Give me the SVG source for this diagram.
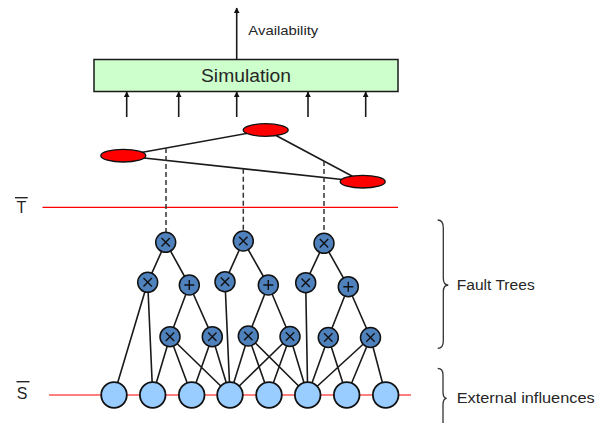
<svg xmlns="http://www.w3.org/2000/svg" width="608" height="423" viewBox="0 0 608 423">
<style>
.txt{font-family:"Liberation Sans",Arial,sans-serif;fill:#262626}
.ln{stroke:#1a1a1a;stroke-width:1.6;fill:none}
.dash{stroke:#333;stroke-width:1.5;stroke-dasharray:5,3;fill:none}
.red{stroke:#ff0000;stroke-width:1.2;fill:none}
.gate{fill:#4f81bd;stroke:#111;stroke-width:1.5}
.sym{stroke:#111;stroke-width:1.4;fill:none}
.base{fill:#99ccff;stroke:#111;stroke-width:1.8}
.ell{fill:#ff0000;stroke:#111;stroke-width:1.3}
.brace{stroke:#333;stroke-width:1.3;fill:none}
</style>
<defs>
<marker id="ah" viewBox="0 0 10 10" refX="9" refY="5" markerWidth="6" markerHeight="6" markerUnits="userSpaceOnUse" orient="auto">
<path d="M0,0 L10,5 L0,10 z" fill="#111"/>
</marker>
<g id="gx"><circle r="10" class="gate"/><path d="M-4.2,-4.2 L4.2,4.2 M4.2,-4.2 L-4.2,4.2" class="sym"/></g>
<g id="gp"><circle r="10" class="gate"/><path d="M-5,0 L5,0 M0,-5 L0,5" class="sym"/></g>
</defs>

<!-- level lines and labels -->
<g id="levels">
<line x1="42.5" y1="207.3" x2="398" y2="207.3" class="red"/>
<line x1="49" y1="395" x2="411" y2="395" class="red"/>
<text x="21.5" y="213.3" class="txt" font-size="16" text-anchor="middle">T</text>
<line x1="15" y1="197.7" x2="27.7" y2="197.7" stroke="#262626" stroke-width="1.4"/>
<text x="22" y="398.5" class="txt" font-size="16" text-anchor="middle">S</text>
<line x1="16.5" y1="381.7" x2="29.5" y2="381.7" stroke="#262626" stroke-width="1.4"/>
</g>

<!-- connectors -->
<g id="connectors">
<line x1="236.7" y1="59.5" x2="236.7" y2="8" class="ln" marker-end="url(#ah)"/>
<line x1="126.7" y1="117" x2="126.7" y2="92" class="ln" marker-end="url(#ah)"/>
<line x1="178.7" y1="117" x2="178.7" y2="92" class="ln" marker-end="url(#ah)"/>
<line x1="236.7" y1="117" x2="236.7" y2="92" class="ln" marker-end="url(#ah)"/>
<line x1="308" y1="117" x2="308" y2="92" class="ln" marker-end="url(#ah)"/>
<line x1="365.7" y1="117" x2="365.7" y2="92" class="ln" marker-end="url(#ah)"/>
<!-- triangle -->
<line x1="123.3" y1="155.7" x2="265.7" y2="130" class="ln"/>
<line x1="123.3" y1="155.7" x2="362.7" y2="181.7" class="ln"/>
<line x1="265.7" y1="130" x2="362.7" y2="181.7" class="ln"/>
<!-- dashed -->
<line x1="166" y1="148" x2="166" y2="232" class="dash"/>
<line x1="243.3" y1="168.7" x2="243.3" y2="231" class="dash"/>
<line x1="324" y1="161.1" x2="324" y2="233" class="dash"/>
<!-- trees -->
<path class="ln" d="M165.7,242.3 L147.7,282.3 M165.7,242.3 L189.3,285 M243.3,241 L225,281.7 M243.3,241 L268.3,285 M324,243.3 L305.7,282.7 M324,243.3 L348.3,286.7"/>
<path class="ln" d="M189.3,285 L170,336.7 M189.3,285 L212.3,336.7 M268.3,285 L248.3,336 M268.3,285 L290,336.5 M348.3,286.7 L328.3,337.5 M348.3,286.7 L370.5,337.5"/>
<path class="ln" d="M147.7,282.3 L114,395 M147.7,282.3 L152.7,395 M225,281.7 L230,395 M305.7,282.7 L307.7,395"/>
<path class="ln" d="M170,336.7 L152.7,395 M170,336.7 L191.7,395 M170,336.7 L230,395 M212.3,336.7 L191.7,395 M212.3,336.7 L230,395"/>
<path class="ln" d="M248.3,336 L230,395 M248.3,336 L269,395 M248.3,336 L307.7,395 M290,336.5 L230,395 M290,336.5 L269,395 M290,336.5 L307.7,395"/>
<path class="ln" d="M328.3,337.5 L307.7,395 M328.3,337.5 L346.7,395 M370.5,337.5 L307.7,395 M370.5,337.5 L346.7,395 M370.5,337.5 L385.7,395"/>
</g>

<g id="simulation">
<rect x="94" y="59.5" width="304" height="32" fill="#ccffcc" stroke="#1a1a1a" stroke-width="1.5"/>
<text x="246" y="82" class="txt" font-size="17.5" text-anchor="middle" textLength="90" lengthAdjust="spacingAndGlyphs">Simulation</text>
</g>
<g id="availability-label"><text x="248.3" y="35" class="txt" font-size="13" textLength="70" lengthAdjust="spacingAndGlyphs">Availability</text></g>

<g id="e1"><ellipse cx="123.3" cy="155.7" rx="22.5" ry="6.3" class="ell"/></g>
<g id="e2"><ellipse cx="265.7" cy="130" rx="22.5" ry="6.3" class="ell"/></g>
<g id="e3"><ellipse cx="362.7" cy="181.7" rx="22.5" ry="6.3" class="ell"/></g>

<g id="t1"><use href="#gx" x="165.7" y="242.3"/></g>
<g id="t2"><use href="#gx" x="243.3" y="241"/></g>
<g id="t3"><use href="#gx" x="324" y="243.3"/></g>
<g id="x1"><use href="#gx" x="147.7" y="282.3"/></g>
<g id="p1"><use href="#gp" x="189.3" y="285"/></g>
<g id="x2"><use href="#gx" x="225" y="281.7"/></g>
<g id="p2"><use href="#gp" x="268.3" y="285"/></g>
<g id="x3"><use href="#gx" x="305.7" y="282.7"/></g>
<g id="p3"><use href="#gp" x="348.3" y="286.7"/></g>
<g id="l1"><use href="#gx" x="170" y="336.7"/></g>
<g id="l2"><use href="#gx" x="212.3" y="336.7"/></g>
<g id="l3"><use href="#gx" x="248.3" y="336"/></g>
<g id="l4"><use href="#gx" x="290" y="336.5"/></g>
<g id="l5"><use href="#gx" x="328.3" y="337.5"/></g>
<g id="l6"><use href="#gx" x="370.5" y="337.5"/></g>

<g id="b1"><circle cx="114" cy="395" r="12.8" class="base"/></g>
<g id="b2"><circle cx="152.7" cy="395" r="12.8" class="base"/></g>
<g id="b3"><circle cx="191.7" cy="395" r="12.8" class="base"/></g>
<g id="b4"><circle cx="230" cy="395" r="12.8" class="base"/></g>
<g id="b5"><circle cx="269" cy="395" r="12.8" class="base"/></g>
<g id="b6"><circle cx="307.7" cy="395" r="12.8" class="base"/></g>
<g id="b7"><circle cx="346.7" cy="395" r="12.8" class="base"/></g>
<g id="b8"><circle cx="385.7" cy="395" r="12.8" class="base"/></g>

<g id="fault-trees-brace">
<path class="brace" d="M437.7,220 Q443.3,220 443.3,228 L443.3,278 Q443.3,285 448.3,285 Q443.3,285 443.3,292 L443.3,341 Q443.3,348.3 437.7,348.3"/>
<text x="456.7" y="290" class="txt" font-size="15.5" textLength="78" lengthAdjust="spacingAndGlyphs">Fault Trees</text>
</g>
<g id="external-brace">
<path class="brace" d="M437.7,368.3 Q443,368.3 443,375 L443,392 Q443,398.3 446.7,398.3 Q443,398.3 443,405 L443,423"/>
<text x="456.7" y="403.3" class="txt" font-size="15.5" textLength="138" lengthAdjust="spacingAndGlyphs">External influences</text>
</g>
</svg>
